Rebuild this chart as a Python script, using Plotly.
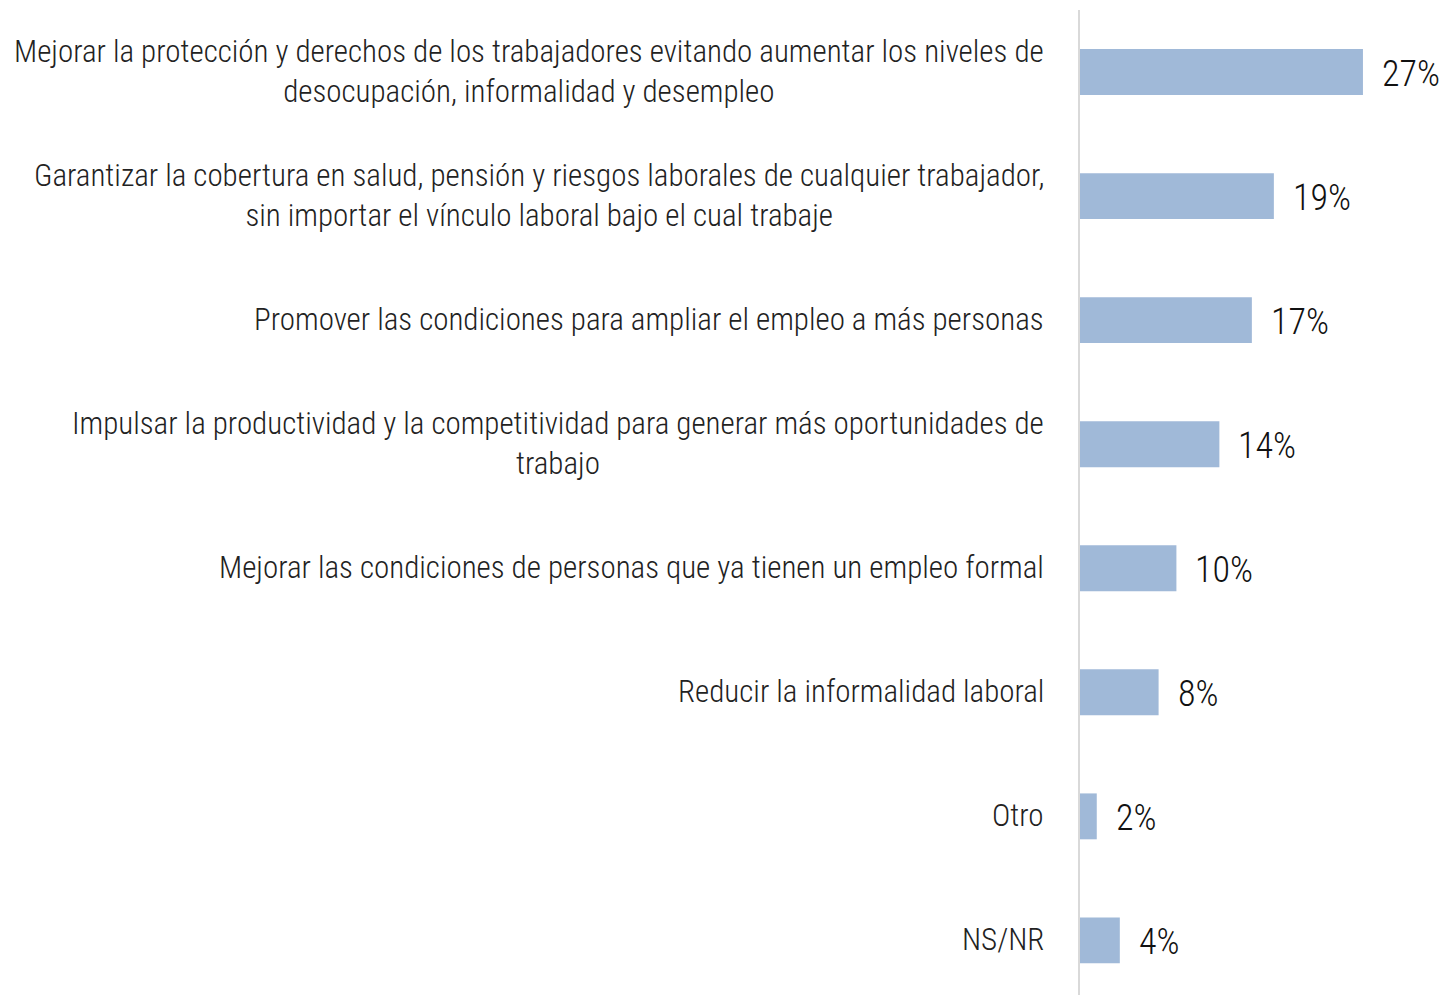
import plotly.graph_objects as go

categories = [
    "Mejorar la protección y derechos de los trabajadores evitando aumentar los niveles de<br>desocupación, informalidad y desempleo",
    "Garantizar la cobertura en salud, pensión y riesgos laborales de cualquier trabajador,<br>sin importar el vínculo laboral bajo el cual trabaje",
    "Promover las condiciones para ampliar el empleo a más personas",
    "Impulsar la productividad y la competitividad para generar más oportunidades de<br>trabajo",
    "Mejorar las condiciones de personas que ya tienen un empleo formal",
    "Reducir la informalidad laboral",
    "Otro",
    "NS/NR",
]
values = [27.0, 18.5, 16.4, 13.3, 9.2, 7.5, 1.6, 3.8]
value_labels = ["27%", "19%", "17%", "14%", "10%", "8%", "2%", "4%"]

LABEL_FONT = "Roboto Condensed, Roboto, sans-serif"
positions = list(range(len(categories)))

fig = go.Figure()
fig.add_trace(go.Bar(
    x=values, y=positions, orientation="h",
    marker=dict(color="#a0b9d8", line=dict(width=0)),
    width=0.37, hoverinfo="skip",
))

annotations = []
for i, (cat, v, lab) in enumerate(zip(categories, values, value_labels)):
    annotations.append(dict(
        x=0, xref="paper", y=i, yref="y", text=cat, showarrow=False,
        xanchor="right", yanchor="middle", align="center", xshift=-34, yshift=1,
        font=dict(family=LABEL_FONT, size=31, color="#222222", weight=300),
    ))
    annotations.append(dict(
        x=v, xref="x", y=i, yref="y", text=lab, showarrow=False,
        xanchor="left", yanchor="middle", xshift=17, yshift=-2,
        font=dict(family=LABEL_FONT, size=36, color="#111111", weight=300),
    ))

fig.update_layout(
    width=1445, height=995,
    margin=dict(l=1080, r=0, t=10, b=0),
    paper_bgcolor="white", plot_bgcolor="white",
    showlegend=False,
    annotations=annotations,
    xaxis=dict(range=[0, 34.83], showgrid=False, zeroline=False,
               showticklabels=False, showline=False),
    yaxis=dict(range=[7.44, -0.5], showgrid=False, zeroline=False,
               showticklabels=False, showline=True, linecolor="#d9d9d9",
               linewidth=2, ticks=""),
)

fig.write_html(
    "out.html",
    config={"displayModeBar": False},
    post_script="document.body.style.margin='0';document.body.style.overflow='hidden';",
)
